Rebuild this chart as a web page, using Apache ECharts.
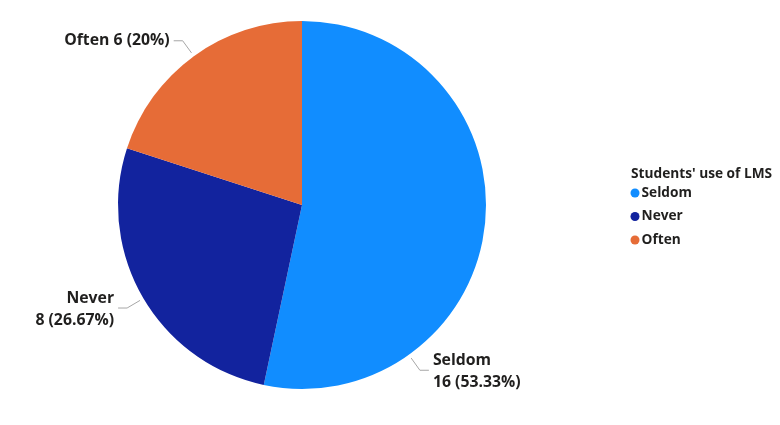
<!DOCTYPE html>
<html>
<head>
<meta charset="utf-8">
<script src="https://cdn.jsdelivr.net/npm/echarts@6/dist/echarts.min.js"></script>
<style>
html,body{margin:0;padding:0;background:#fff;}
#chart{width:780px;height:425px;}
</style>
</head>
<body>
<div id="chart"></div>
<script>
const categories = ['Seldom', 'Never', 'Often'];
const values = [16, 8, 6];
const colors = ['#118DFF', '#12239E', '#E66C37'];
const legendTitle = "Students' use of LMS";

// label leader-line anchor angles (degrees, counter-clockwise from +x), style only
const labelAngles = [-54.5, 210.5, 126];

const FONT = '"Open Sans", "DejaVu Sans", sans-serif';
const TXT = '#201f1e';
const CX = 302, CY = 205, R = 184;
const chart = echarts.init(document.getElementById('chart'));

const data = categories.map((c, i) => ({
  name: c,
  value: values[i],
  itemStyle: { color: colors[i] },
  label: {
    formatter: c === 'Often' ? '{b} {c} ({d}%)' : '{b}\n{c} ({d}%)',
    align: i === 0 ? 'left' : 'right'
  }
}));

function layoutLabel(params) {
  const i = params.dataIndex;
  const a = labelAngles[i] * Math.PI / 180;
  const p1 = [CX + (R + 4) * Math.cos(a), CY - (R + 4) * Math.sin(a)];
  const p2 = [CX + (R + 19) * Math.cos(a), CY - (R + 19) * Math.sin(a)];
  const right = Math.cos(a) > 0;
  const p3 = [p2[0] + (right ? 9 : -9), p2[1]];
  return {
    x: p3[0] + (right ? 4 : -4),
    y: p3[1] + (i === 2 ? 0 : 1.5),
    align: right ? 'left' : 'right',
    verticalAlign: 'middle',
    labelLinePoints: [p1, p2, p3]
  };
}

chart.setOption({
  animation: false,
  title: {
    text: legendTitle,
    left: 631,
    top: 166,
    padding: 0,
    textStyle: { fontFamily: FONT, fontSize: 13.7, lineHeight: 16, fontWeight: 'bold', color: TXT }
  },
  legend: {
    orient: 'vertical',
    left: 630.5,
    top: 185,
    padding: 0,
    itemGap: 7.5,
    itemWidth: 9,
    itemHeight: 9,
    icon: 'circle',
    data: categories,
    textStyle: { fontFamily: FONT, fontSize: 13.7, lineHeight: 16, fontWeight: 'bold', color: TXT, padding: [0, 0, 0, -3] }
  },
  series: [{
    type: 'pie',
    center: [CX, CY],
    radius: [0, R],
    startAngle: 90,
    clockwise: true,
    data: data,
    label: {
      show: true,
      position: 'outside',
      fontFamily: FONT,
      fontSize: 15.8,
      fontWeight: 'bold',
      color: TXT,
      lineHeight: 22
    },
    labelLine: {
      show: true,
      length: 14,
      length2: 10,
      lineStyle: { color: '#a6a6a6', width: 1 }
    },
    labelLayout: layoutLabel
  }]
});
</script>
</body>
</html>
